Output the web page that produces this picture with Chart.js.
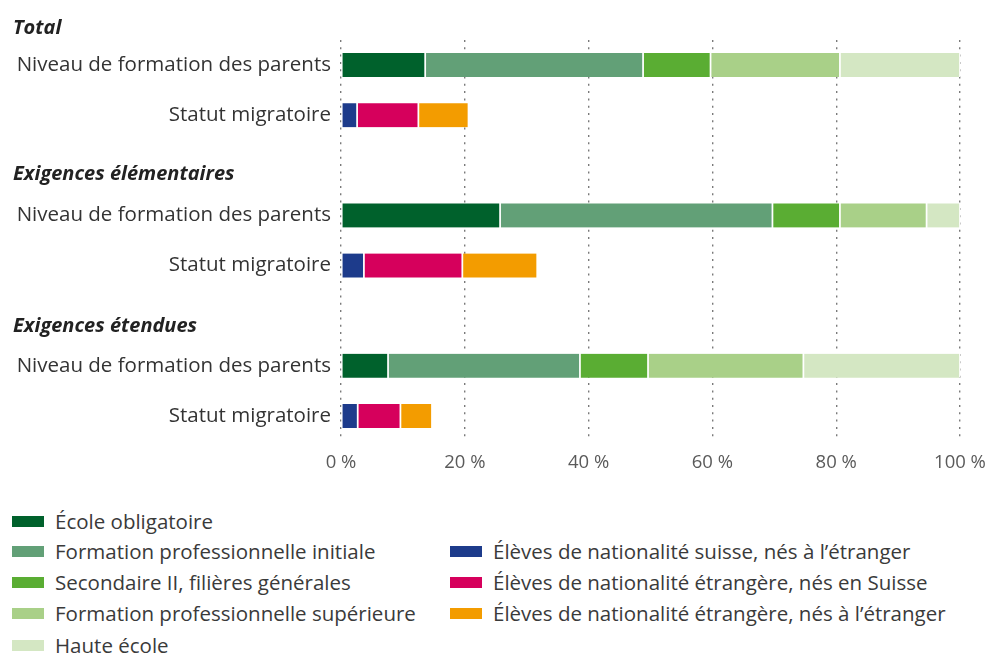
<!DOCTYPE html>
<html>
<head>
<meta charset="utf-8">
<script src="https://cdn.jsdelivr.net/npm/chart.js@4.4.1/dist/chart.umd.min.js"></script>
<style>
  html, body { margin: 0; padding: 0; background: #fff; }
  #wrap { position: relative; width: 988px; height: 655px; font-family: "Open Sans", sans-serif; }
  #c { position: absolute; left: 0; top: 0; }
  .lg { position: absolute; display: flex; align-items: center; font-size: 20.5px; color: #3a3a3a; white-space: nowrap; }
  .sw { width: 32px; height: 11px; margin-right: 11px; }
</style>
</head>
<body>
<div id="wrap">
  <canvas id="c" width="988" height="481"></canvas>
  <div id="legend"></div>
</div>
<script>
// ---- Data ----
const groupHeaders = ['Total', 'Exigences élémentaires', 'Exigences étendues'];
const rowNiveau = 'Niveau de formation des parents';
const rowStatut = 'Statut migratoire';
const xTicks = [0, 20, 40, 60, 80, 100];

// Niveau de formation des parents (per group: Total, élémentaires, étendues)
const ecoleObligatoire      = [13.6, 25.7, 7.6];
const formationProInitiale  = [35.2, 44.0, 31.0];
const secondaireII          = [10.9, 10.9, 11.0];
const formationProSup       = [20.9, 14.0, 25.1];
const hauteEcole            = [19.4, 5.4, 25.3];

// Statut migratoire
const suissesNesEtranger    = [2.6, 3.7, 2.7];
const etrangersNesSuisse    = [9.9, 15.9, 6.9];
const etrangersNesEtranger  = [8.1, 12.1, 5.1];

const seriesNames = [
  'École obligatoire', 'Formation professionnelle initiale', 'Secondaire II, filières générales',
  'Formation professionnelle supérieure', 'Haute école',
  'Élèves de nationalité suisse, nés à l’étranger', 'Élèves de nationalité étrangère, nés en Suisse',
  'Élèves de nationalité étrangère, nés à l’étranger'
];
const seriesColors = ['#00612c', '#62a077', '#5aad33', '#a9d088', '#d4e7c3', '#1d3b8b', '#d6005c', '#f39c00'];

// ---- Build rows: N1,S1,H2,N2,S2,H3,N3,S3 ----
const labels = [rowNiveau, rowStatut, '', rowNiveau, rowStatut, '', rowNiveau, rowStatut];
const niveauRows = [0, 3, 6];
const statutRows = [1, 4, 7];
function rowData(vals, rows) {
  const d = new Array(labels.length).fill(null);
  rows.forEach((r, i) => { d[r] = vals[i]; });
  return d;
}
const seriesVals = [ecoleObligatoire, formationProInitiale, secondaireII, formationProSup, hauteEcole,
                    suissesNesEtranger, etrangersNesSuisse, etrangersNesEtranger];
const datasets = seriesVals.map((vals, i) => ({
  label: seriesNames[i],
  data: rowData(vals, i < 5 ? niveauRows : statutRows),
  backgroundColor: seriesColors[i],
  borderColor: '#ffffff',
  borderWidth: { left: 1.2, right: 1.2, top: 0, bottom: 0 },
  borderSkipped: false,
  barThickness: 24
}));

const headerPlugin = {
  id: 'headers',
  afterDraw(chart) {
    const y = chart.scales.y;
    const ctx = chart.ctx;
    const step = y.getPixelForValue(1) - y.getPixelForValue(0);
    const pos = [y.getPixelForValue(0) - step + 13, y.getPixelForValue(2) + 9, y.getPixelForValue(5) + 11];
    ctx.save();
    ctx.font = 'italic bold 20px "Open Sans"';
    ctx.fillStyle = '#222';
    ctx.textAlign = 'left';
    ctx.textBaseline = 'middle';
    groupHeaders.forEach((h, i) => ctx.fillText(h, 13, pos[i]));
    ctx.restore();
  }
};

new Chart(document.getElementById('c'), {
  type: 'bar',
  data: { labels, datasets },
  options: {
    indexAxis: 'y',
    responsive: false,
    animation: false,
    layout: { padding: { top: 40, right: 28, left: 0, bottom: 0 } },
    plugins: { legend: { display: false }, tooltip: { enabled: false } },
    scales: {
      x: {
        stacked: true, min: 0, max: 100,
        afterBuildTicks(s) { s.ticks = xTicks.map(v => ({ value: v })); },
        afterFit(s) { s.height = 40; s.paddingRight = 0; s.paddingLeft = 0; },
        ticks: { callback: v => v + ' %', color: '#5a5a5a', font: { size: 18.5, family: 'Open Sans' }, padding: 11, maxRotation: 0 },
        grid: { color: '#7a7a7a', lineWidth: 1.4, drawTicks: false },
        border: { display: false, dash: [2, 5.3] }
      },
      y: {
        stacked: true,
        afterFit(s) { s.width = 341; },
        ticks: { color: '#333', font: { size: 20.5, family: 'Open Sans' }, padding: 10 },
        grid: { display: false, drawTicks: false },
        border: { display: false }
      }
    }
  },
  plugins: [headerPlugin]
});

// ---- HTML legend ----
const legendPos = [
  [12, 521], [12, 551], [12, 582], [12, 613], [12, 645],
  [450, 551], [450, 582], [450, 613]
];
const lg = document.getElementById('legend');
seriesNames.forEach((n, i) => {
  const d = document.createElement('div');
  d.className = 'lg';
  d.style.left = legendPos[i][0] + 'px';
  d.style.top = (legendPos[i][1] - 14) + 'px';
  d.style.height = '28px';
  d.innerHTML = '<span class="sw" style="background:' + seriesColors[i] + '"></span><span>' + n + '</span>';
  lg.appendChild(d);
});
</script>
</body>
</html>
